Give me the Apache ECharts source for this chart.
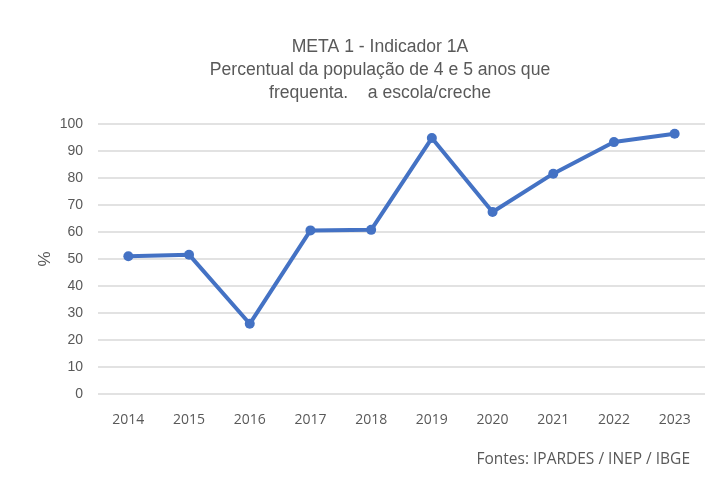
<!DOCTYPE html>
<html>
<head>
<meta charset="utf-8">
<script src="https://cdn.jsdelivr.net/npm/echarts@6/dist/echarts.min.js"></script>
<style>html,body{margin:0;padding:0;background:#fff}#c{width:712px;height:481px}</style>
</head>
<body>
<div id="c"></div>
<script>
const titleLines = ["META 1 - Indicador 1A", "Percentual da população de 4 e 5 anos que", "frequenta.    a escola/creche"];
const years = ["2014","2015","2016","2017","2018","2019","2020","2021","2022","2023"];
const values = [51, 51.6, 26, 60.6, 60.8, 94.8, 67.4, 81.6, 93.3, 96.4];
const yTicks = [0, 10, 20, 30, 40, 50, 60, 70, 80, 90, 100];
const yAxisName = "%";
const sourceText = "Fontes: IPARDES / INEP / IBGE";

const chart = echarts.init(document.getElementById('c'), null, {renderer: 'canvas'});
chart.setOption({
  backgroundColor: '#fff',
  animation: false,
  title: {
    text: titleLines.join('\n'),
    left: 375, top: 31, textAlign: 'center',
    textStyle: {fontFamily: 'Liberation Sans', fontSize: 17.6, fontWeight: 'normal', color: '#595959', lineHeight: 23}
  },
  graphic: [{
    type: 'text', right: 22, top: 452,
    style: {text: sourceText, font: '15.5px "Open Sans"', fill: '#595959'}
  }],
  grid: {left: 98, right: 7, top: 124, bottom: 87},
  xAxis: {
    type: 'category', data: years, boundaryGap: true,
    axisLine: {show: false}, axisTick: {show: false},
    axisLabel: {margin: 19, fontFamily: 'Open Sans', fontSize: 14, color: '#595959'}
  },
  yAxis: {
    type: 'value', min: yTicks[0], max: yTicks[yTicks.length - 1], interval: 10,
    name: yAxisName, nameLocation: 'middle', nameGap: 44, nameRotate: 90,
    nameMoveOverlap: false,
    nameTextStyle: {fontFamily: 'Liberation Sans', fontSize: 17, color: '#595959'},
    axisLine: {show: false}, axisTick: {show: false},
    axisLabel: {margin: 15, fontFamily: 'Liberation Sans', fontSize: 14, color: '#595959'},
    splitLine: {lineStyle: {color: '#d9d9d9', width: 1.5}}
  },
  series: [{
    type: 'line', data: values,
    symbol: 'circle', symbolSize: 10,
    lineStyle: {color: '#4472C4', width: 4},
    itemStyle: {color: '#4472C4'}
  }]
});
</script>
</body>
</html>
